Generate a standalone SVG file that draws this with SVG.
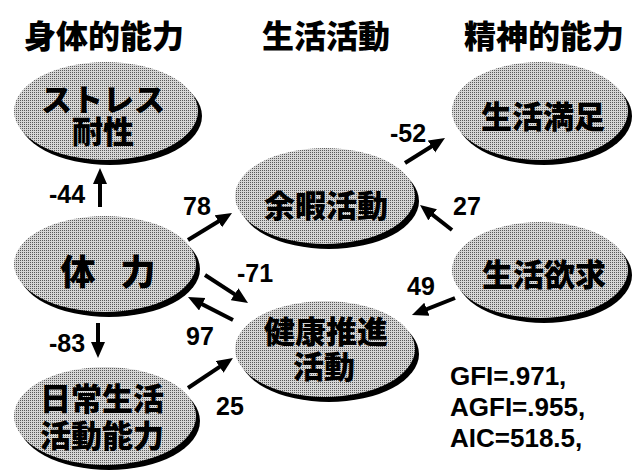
<svg xmlns="http://www.w3.org/2000/svg" width="637" height="471" viewBox="0 0 637 471">
<style>
.hdr{font-family:"Noto Sans CJK JP","Noto Sans CJK SC",sans-serif;font-weight:900;font-size:32px;fill:#000;text-anchor:middle;dominant-baseline:central}
.nt{font-family:"Noto Sans CJK JP","Noto Sans CJK SC",sans-serif;font-weight:900;font-size:31px;fill:#000;text-anchor:middle;dominant-baseline:central}
.shadow{fill:#000}
.body{fill:url(#dots)}
.lbl{font-family:"Liberation Sans",Arial,sans-serif;font-weight:bold;font-size:25px;fill:#000;text-anchor:middle}
.fit{font-family:"Liberation Sans",Arial,sans-serif;font-weight:bold;font-size:26px;fill:#000}
.arr{stroke:#000;stroke-width:4;fill:none;marker-end:url(#ah)}
</style>
<defs>
<pattern id="dots" width="2" height="2" patternUnits="userSpaceOnUse">
<rect width="2" height="2" fill="#d6d6d6"/>
<rect width="1" height="1" fill="#5a5a5a"/>
</pattern>
<marker id="ah" markerUnits="userSpaceOnUse" markerWidth="17" markerHeight="15" refX="8" refY="7" orient="auto">
<path d="M0,0 L16,7 L0,14 z" fill="#000"/>
</marker>
</defs>
<rect width="637" height="471" fill="#fff"/>
<g id="headers">
<text class="hdr" x="104" y="34">身体的能力</text>
<text class="hdr" x="326" y="34">生活活動</text>
<text class="hdr" x="544" y="34">精神的能力</text>
</g>
<g id="stress">
<ellipse class="shadow" cx="110" cy="116" rx="92" ry="49"/>
<ellipse class="body" cx="106" cy="111" rx="92" ry="49"/>
<text class="nt"><tspan x="103" y="97">ストレス</tspan><tspan x="103" y="129">耐性</tspan></text>
</g>
<g id="tairyoku">
<ellipse class="shadow" cx="109" cy="269" rx="91" ry="48"/>
<ellipse class="body" cx="105" cy="264" rx="91" ry="48"/>
<text class="nt" style="font-size:35px"><tspan x="78" y="269">体</tspan><tspan x="138" y="269">力</tspan></text>
</g>
<g id="nichijo">
<ellipse class="shadow" cx="109" cy="421" rx="91" ry="49"/>
<ellipse class="body" cx="105" cy="416" rx="91" ry="49"/>
<text class="nt"><tspan x="102" y="396">日常生活</tspan><tspan x="102" y="433">活動能力</tspan></text>
</g>
<g id="yoka">
<ellipse class="shadow" cx="329" cy="201" rx="90" ry="48"/>
<ellipse class="body" cx="325" cy="196" rx="90" ry="48"/>
<text class="nt" x="326" y="203">余暇活動</text>
</g>
<g id="kenko">
<ellipse class="shadow" cx="329" cy="354" rx="90" ry="48"/>
<ellipse class="body" cx="325" cy="349" rx="90" ry="48"/>
<text class="nt"><tspan x="326" y="329">健康推進</tspan><tspan x="324" y="364">活動</tspan></text>
</g>
<g id="manzoku">
<ellipse class="shadow" cx="544" cy="116" rx="88" ry="49"/>
<ellipse class="body" cx="540" cy="111" rx="88" ry="49"/>
<text class="nt" x="543" y="114">生活満足</text>
</g>
<g id="yokkyu">
<ellipse class="shadow" cx="544" cy="275" rx="88" ry="48"/>
<ellipse class="body" cx="540" cy="270" rx="88" ry="48"/>
<text class="nt" x="544" y="272">生活欲求</text>
</g>
<g id="connectors">
<path class="arr" d="M100,207 L100,176"/>
<path class="arr" d="M98,323 L98,350"/>
<path class="arr" d="M188,240 L225.2,217.2"/>
<path class="arr" d="M205,275 L241.3,298.6"/>
<path class="arr" d="M233,320 L195.1,300.6"/>
<path class="arr" d="M188,388 L226.3,362.4"/>
<path class="arr" d="M405,163 L438.2,142.2"/>
<path class="arr" d="M452,230 L426.3,209.9"/>
<path class="arr" d="M455,298 L419.4,312.1"/>
</g>
<g id="labels">
<text class="lbl" x="67" y="203">-44</text>
<text class="lbl" x="197" y="215">78</text>
<text class="lbl" x="255" y="282">-71</text>
<text class="lbl" x="200" y="345">97</text>
<text class="lbl" x="67" y="352">-83</text>
<text class="lbl" x="230" y="415">25</text>
<text class="lbl" x="408" y="142">-52</text>
<text class="lbl" x="467" y="215">27</text>
<text class="lbl" x="421" y="295">49</text>
</g>
<g id="fit">
<text class="fit" x="450" y="385">GFI=.971,</text>
<text class="fit" x="450" y="416">AGFI=.955,</text>
<text class="fit" x="450" y="447">AIC=518.5,</text>
</g>
</svg>
